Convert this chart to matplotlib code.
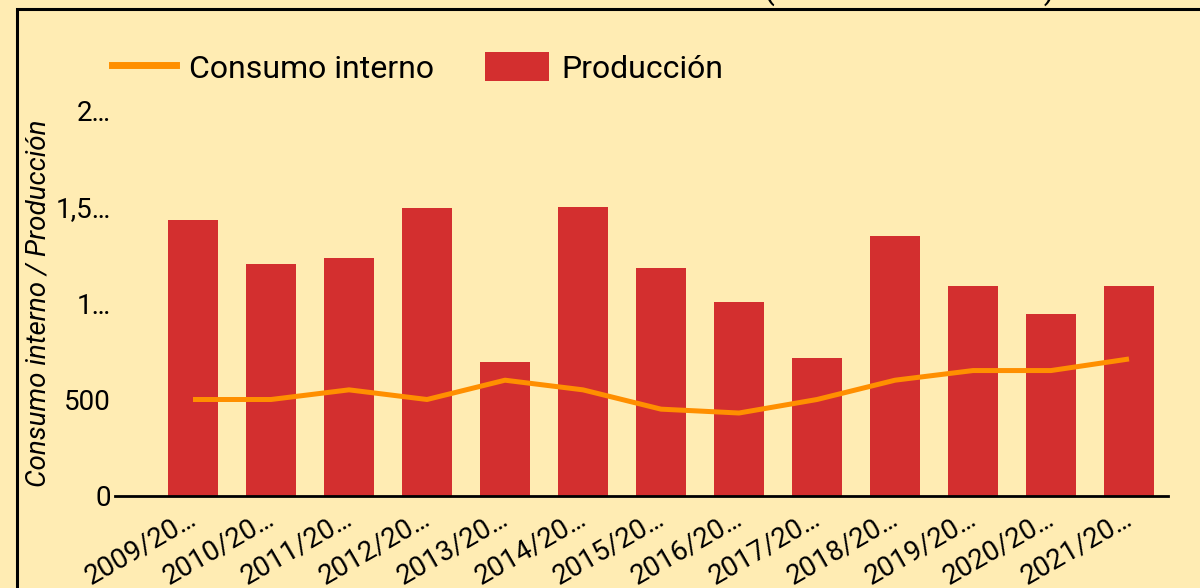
import matplotlib
matplotlib.use("Agg")
import matplotlib.pyplot as plt
from matplotlib.patches import Rectangle, Patch
from matplotlib.lines import Line2D
from matplotlib.transforms import ScaledTranslation

plt.rcParams["font.family"] = ["Roboto", "DejaVu Sans"]

# data
campaigns = ["2009/2010", "2010/2011", "2011/2012", "2012/2013", "2013/2014",
             "2014/2015", "2015/2016", "2016/2017", "2017/2018", "2018/2019",
             "2019/2020", "2020/2021", "2021/2022"]
tick_labels = [c[:7] + "\u2026" for c in campaigns]
produccion = [1430, 1200, 1235, 1490, 695, 1500, 1180, 1005, 715, 1345, 1090, 945, 1090]
consumo = [500, 500, 550, 500, 600, 550, 450, 430, 500, 600, 650, 650, 710]
y_ticks = [0, 500, 1000, 1500, 2000]
y_tick_labels = ["0", "500", "1\u2026", "1,5\u2026", "2\u2026"]

BG = "#FFECB3"
RED = "#D32F2F"
ORANGE = "#FF8F00"

fig = plt.figure(figsize=(12, 5.88), dpi=100, facecolor=BG)
ax = fig.add_axes([115 / 1200, 92 / 588, 1053 / 1200, 386 / 588])
ax.set_facecolor(BG)

x = range(len(campaigns))
ax.bar(x, produccion, width=0.64, color=RED, zorder=2)
ax.plot(x, consumo, color=ORANGE, lw=3.6, zorder=3, solid_capstyle="butt")

ax.set_xlim(-1.0, 12.5)
ax.set_ylim(0, 2000)
ax.set_yticks(y_ticks)
ax.set_yticklabels(y_tick_labels)
ax.set_xticks(list(x))
ax.set_xticklabels(tick_labels, rotation=30, ha="right", rotation_mode="anchor")
ax.tick_params(axis="both", length=0, labelsize=20)
ax.tick_params(axis="y", pad=3)
ax.tick_params(axis="x", pad=6)

# nudge the rotated labels a little to the left
shift = ScaledTranslation(-6 / 100, 0, fig.dpi_scale_trans)
for lbl in ax.get_xticklabels():
    lbl.set_transform(lbl.get_transform() + shift)

for side in ("top", "right", "left"):
    ax.spines[side].set_visible(False)
ax.spines["bottom"].set_linewidth(2)
ax.spines["bottom"].set_color("black")

ax.set_ylabel("Consumo interno / Producci\u00f3n", fontsize=20, style="italic")
ax.yaxis.set_label_coords(-0.0605, 0.5)

handles = [Line2D([], [], color=ORANGE, lw=5),
           Patch(facecolor=RED)]
fig.legend(handles, ["Consumo interno", "Producci\u00f3n"], loc="center left",
           bbox_to_anchor=(112 / 1200, 1 - 68 / 588), ncol=2, frameon=False,
           fontsize=23, borderpad=0, borderaxespad=0, handlelength=2.0,
           handleheight=1.0, handletextpad=0.4, columnspacing=1.6)

# title mostly cut off at the top edge of the image
fig.text(1055 / 1200, 1 + 1 / 588, "Consumo interno - Producci\u00f3n (miles de toneladas)",
         ha="right", va="baseline", fontsize=23)

# outer frame, its right and bottom sides fall outside the image
fig.patches.append(Rectangle((17 / 1200, -0.2), 1.2, 1.2 - 9 / 588, transform=fig.transFigure,
                             fill=False, edgecolor="black", lw=2.2, zorder=0))

fig.savefig("out.png", dpi=100, facecolor=BG)
